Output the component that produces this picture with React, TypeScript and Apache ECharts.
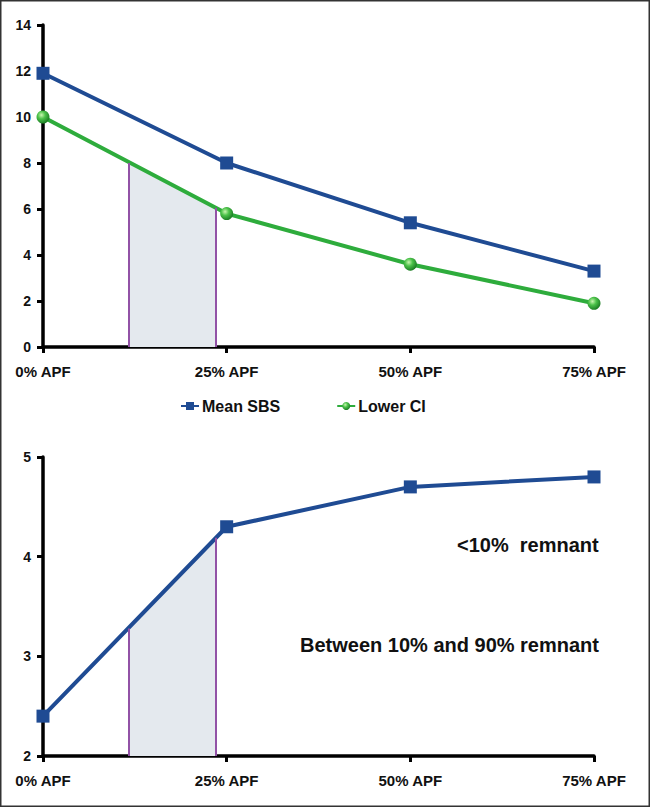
import React, { useEffect, useRef } from "react";
import * as echarts from "echarts";

const apfLevels = [0, 25, 50, 75];
const tickLabels = ["0% APF", "25% APF", "50% APF", "75% APF"];
const meanSBS = [11.9, 8.0, 5.4, 3.3];
const lowerCI = [10.0, 5.8, 3.6, 1.9];
const meanBottom = [2.4, 4.3, 4.7, 4.8];
const shadeX = [11.7, 23.5];
const shadeTopUpper = [8.0, 6.05];
const shadeTopLower = [3.28, 4.19];
const annotations = ["<10%  remnant", "Between 10% and 90% remnant"];

const BLUE = "#1f4b93";
const GREEN = "#2eac3c";
const PURPLE = "#9252a6";
const SHADE = "#e4e9ee";
const FONT = "Liberation Sans, Arial, sans-serif";

export default function App() {
  const ref = useRef<HTMLDivElement>(null);
  useEffect(() => {
    if (!ref.current) return;
    const chart = echarts.init(ref.current, null, { renderer: "svg" });
    const pair = (xs: number[], ys: number[]) => xs.map((x, i) => [x, ys[i]]);
    const labelFmt = (v: number) => {
      const i = apfLevels.indexOf(v);
      return i >= 0 ? tickLabels[i] : "";
    };
    const xAxisBase = {
      type: "value",
      min: 0,
      max: 75,
      interval: 25,
      axisLine: { show: true, lineStyle: { color: "#000", width: 3.5 } },
      axisTick: { show: true, length: 6, lineStyle: { color: "#000", width: 3 } },
      axisLabel: { formatter: labelFmt, color: "#111", fontWeight: "bold", fontSize: 15, fontFamily: FONT, margin: 17 },
      splitLine: { show: false },
    };
    const yAxisBase = {
      type: "value",
      axisLine: { show: true, lineStyle: { color: "#000", width: 3.5 } },
      axisTick: { show: true, length: 6, lineStyle: { color: "#000", width: 3 } },
      axisLabel: { color: "#111", fontWeight: "bold", fontSize: 14, fontFamily: FONT, margin: 12 },
      splitLine: { show: false },
    };
    const greenBall = {
      type: "radial",
      x: 0.38,
      y: 0.35,
      r: 0.65,
      colorStops: [
        { offset: 0, color: "#c9f5b0" },
        { offset: 0.45, color: "#4cc24a" },
        { offset: 1, color: "#1d7f25" },
      ],
    };
    const vLines = (ys: number[], base: number) =>
      shadeX.map((x, i) => [{ coord: [x, base] }, { coord: [x, ys[i]] }]);

    chart.setOption({
      animation: false,
      backgroundColor: "#fff",
      grid: [
        { left: 43, top: 25, width: 551, height: 322 },
        { left: 43, top: 457, width: 551, height: 299 },
      ],
      xAxis: [
        { ...xAxisBase, gridIndex: 0 },
        { ...xAxisBase, gridIndex: 1 },
      ],
      yAxis: [
        { ...yAxisBase, gridIndex: 0, min: 0, max: 14, interval: 2 },
        { ...yAxisBase, gridIndex: 1, min: 2, max: 5, interval: 1 },
      ],
      legend: {
        left: 180,
        top: 398,
        padding: 0,
        itemGap: 56,
        itemWidth: 18,
        itemHeight: 10,
        data: ["Mean SBS", "Lower CI"],
        textStyle: { color: "#111", fontWeight: "bold", fontSize: 16, fontFamily: FONT, padding: [0, 0, 0, -2] },
      },
      graphic: [
        {
          type: "rect",
          shape: { x: 0.75, y: 0.75, width: 648.5, height: 805.5 },
          style: { fill: "none", stroke: "#333", lineWidth: 1.5 },
          silent: true,
        },
        {
          type: "text",
          x: 457,
          y: 545,
          style: { text: annotations[0], fill: "#111", font: `bold 20px ${FONT}`, textVerticalAlign: "middle" },
        },
        {
          type: "text",
          x: 300,
          y: 645,
          style: { text: annotations[1], fill: "#111", font: `bold 20px ${FONT}`, textVerticalAlign: "middle" },
        },
      ],
      series: [
        {
          type: "line",
          xAxisIndex: 0,
          yAxisIndex: 0,
          data: pair(shadeX, shadeTopUpper),
          symbol: "none",
          lineStyle: { width: 0 },
          areaStyle: { color: SHADE, opacity: 1, origin: "start" },
          silent: true,
          z: 1,
          markLine: {
            silent: true,
            symbol: "none",
            label: { show: false },
            lineStyle: { color: PURPLE, width: 2, type: "solid" },
            data: vLines(shadeTopUpper, 0),
          },
        },
        {
          name: "Mean SBS",
          type: "line",
          xAxisIndex: 0,
          yAxisIndex: 0,
          data: pair(apfLevels, meanSBS),
          symbol: "rect",
          symbolSize: 13,
          lineStyle: { color: BLUE, width: 4 },
          itemStyle: { color: BLUE },
          z: 3,
        },
        {
          name: "Lower CI",
          type: "line",
          xAxisIndex: 0,
          yAxisIndex: 0,
          data: pair(apfLevels, lowerCI),
          symbol: "circle",
          symbolSize: 13,
          lineStyle: { color: GREEN, width: 4 },
          itemStyle: { color: greenBall },
          z: 3,
        },
        {
          type: "line",
          xAxisIndex: 1,
          yAxisIndex: 1,
          data: pair(shadeX, shadeTopLower),
          symbol: "none",
          lineStyle: { width: 0 },
          areaStyle: { color: SHADE, opacity: 1, origin: "start" },
          silent: true,
          z: 1,
          markLine: {
            silent: true,
            symbol: "none",
            label: { show: false },
            lineStyle: { color: PURPLE, width: 2, type: "solid" },
            data: vLines(shadeTopLower, 2),
          },
        },
        {
          name: "Mean SBS",
          type: "line",
          xAxisIndex: 1,
          yAxisIndex: 1,
          data: pair(apfLevels, meanBottom),
          symbol: "rect",
          symbolSize: 13,
          lineStyle: { color: BLUE, width: 4 },
          itemStyle: { color: BLUE },
          z: 3,
        },
      ],
    });
    return () => chart.dispose();
  }, []);
  return (
    <div
      ref={ref}
      style={{ position: "absolute", left: 0, top: 0, width: 650, height: 807, background: "#fff" }}
    />
  );
}
